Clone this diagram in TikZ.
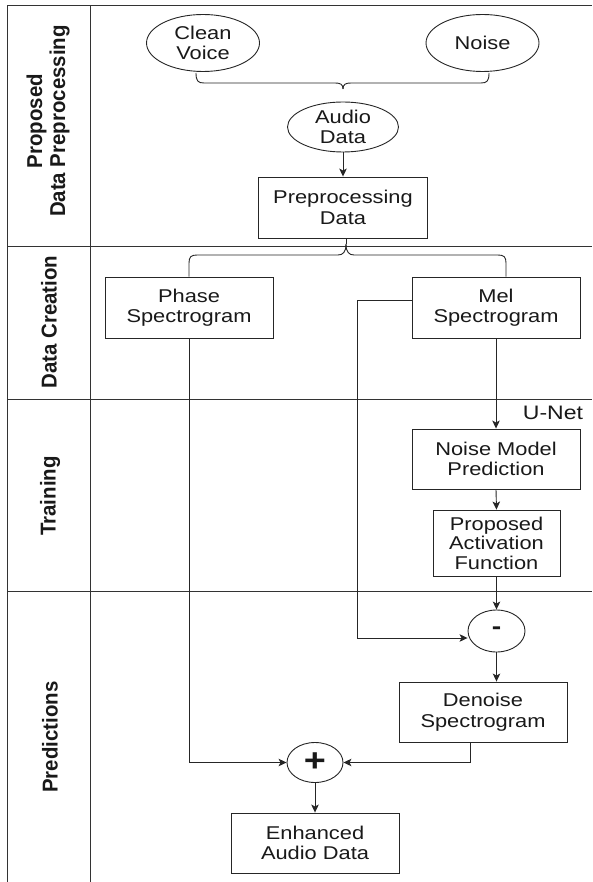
\documentclass[tikz,border=0pt]{standalone}
\usepackage{fontspec}
\setmainfont{Liberation Sans}[FakeStretch=1.18]
\newfontfamily\lanefont{Liberation Sans}[FakeStretch=0.95]
\usetikzlibrary{shapes.geometric,arrows.meta,calc}
\tikzset{
  frame/.style={line width=1pt, draw=black!80},
  conn/.style={line width=0.9pt, draw=black!85},
  arr/.style={conn, -{Stealth[length=8pt,width=7.5pt,inset=2pt]}},
  txt/.style={font=\fontsize{18.5}{20.5}\selectfont, align=center, text=black!90},
  stepbox/.style={txt, draw=black!85, line width=0.9pt, rectangle, inner sep=0pt,
    minimum width=168pt, minimum height=61pt},
  oval/.style={txt, draw=black!85, line width=0.9pt, ellipse, inner sep=0pt},
  lanelabel/.style={font=\lanefont\bfseries\fontsize{21.5}{23}\selectfont, align=center, rotate=90, text=black!90}
}
\begin{document}
\begin{tikzpicture}[x=1pt,y=-1pt]
\useasboundingbox (0,0) rectangle (592,882);
\fill[white] (0,0) rectangle (592,882);
% frame
\draw[frame] (7,6) -- (592,6);
\draw[frame] (7,6) -- (7,882);
\draw[frame] (90.6,6) -- (90.6,882);
\draw[frame] (7,247) -- (592,247);
\draw[frame] (7,399) -- (592,399);
\draw[frame] (7,591) -- (592,591);
% lane labels
\node[lanelabel] (l1) at (48,121) {Proposed\\Data Preprocessing};
\node[lanelabel] (l2) at (49,322) {Data Creation};
\node[lanelabel] (l3) at (50,496) {Training};
\node[lanelabel] (l4) at (50,737) {Predictions};
% nodes
\node[oval, minimum width=113pt, minimum height=57pt] (clean) at (203,43) {Clean\\Voice};
\node[oval, minimum width=113pt, minimum height=57pt] (noise) at (482.5,43) {Noise};
\node[oval, minimum width=111pt, minimum height=50pt] (audio) at (343,127) {Audio\\Data};
\node[stepbox, minimum width=169pt] (pre) at (343,207.5) {Preprocessing\\Data};
\node[stepbox] (phase) at (189,307.5) {Phase\\Spectrogram};
\node[stepbox] (mel) at (496,307.5) {Mel\\Spectrogram};
\node[txt, font=\fontsize{19.5}{21}\selectfont] (unet) at (553,413) {U-Net};
\node[stepbox, minimum height=60pt] (nmp) at (496,459) {Noise Model\\Prediction};
\node[stepbox, minimum width=127pt, minimum height=66pt, font=\fontsize{18.5}{19.5}\selectfont] (paf) at (496.5,543) {Proposed\\Activation\\Function};
\node[oval, minimum width=57pt, minimum height=42pt, font=\bfseries\fontsize{24}{24}\selectfont] (minus) at (496.5,631) {-};
\node[stepbox, minimum height=60pt] (den) at (483,712) {Denoise\\Spectrogram};
\node[oval, minimum width=56pt, minimum height=40pt, font=\bfseries\fontsize{32}{32}\selectfont] (plus) at (315,762.5) {+};
\node[stepbox, minimum height=60pt] (enh) at (315,843) {Enhanced\\Audio Data};
% brace 1 (pointing down)
\coordinate (b1L) at (196,73);
\coordinate (b1R) at (489,73);
\coordinate (b1T) at (343,89);
\draw[conn] (b1L) .. controls (196,81) and (198,83) .. (204,83) -- (335,83)
  .. controls (340,83) and (343,84) .. (b1T);
\draw[conn] (b1R) .. controls (489,81) and (487,83) .. (481,83) -- (351,83)
  .. controls (346,83) and (343,84) .. (b1T);
% audio -> pre
\draw[arr] (audio.south) -- (pre.north);
% brace 2 (pointing up)
\coordinate (b2T) at (346,244);
\coordinate (b2L) at (189,263);
\coordinate (b2R) at (506,263);
\draw[conn] (pre.south -| b2T) -- (b2T);
\draw[conn] (b2T) .. controls (346,252) and (343,255) .. (338,255) -- (197,255)
  .. controls (191,255) and (189,257) .. (b2L) -- (phase.north);
\draw[conn] (b2T) .. controls (346,252) and (349,255) .. (354,255) -- (498,255)
  .. controls (504,255) and (506,257) .. (b2R) -- (mel.north -| b2R);
% training path
\draw[arr] (mel.south) -- (nmp.north);
\draw[arr] (nmp.south) -- (paf.north);
\draw[arr] (paf.south) -- (minus.north);
\draw[arr] (minus.south) -- (minus.south |- den.north);
% skip from mel to minus
\coordinate (mk) at (357,638);
\draw[arr] ($(mel.west)+(0,-7.5)$) -| (mk) -- (mk -| minus.west);
% prediction combine
\coordinate (dk) at (470,762.5);
\draw[arr] (den.south -| dk) -- (dk) -- (plus.east);
\draw[arr] (phase.south) |- (plus.west);
\draw[arr] (plus.south) -- (enh.north);
\end{tikzpicture}
\end{document}
